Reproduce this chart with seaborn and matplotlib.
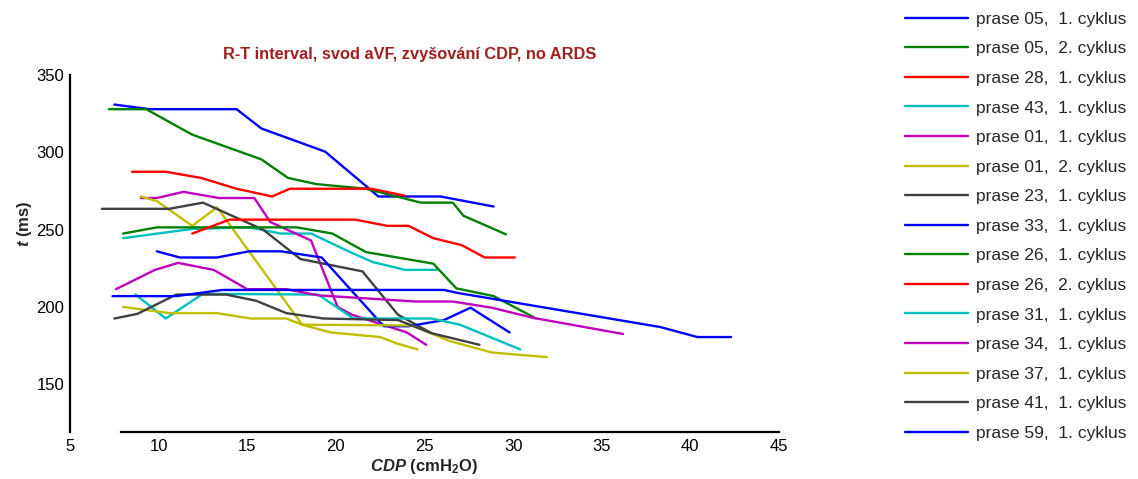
import pandas as pd
import matplotlib
matplotlib.use("Agg")
import matplotlib.pyplot as plt
import seaborn as sns

# ==========================================
# DATA
# ==========================================

labels = [
    "prase 05,  1. cyklus", "prase 05,  2. cyklus", "prase 28,  1. cyklus",
    "prase 43,  1. cyklus", "prase 01,  1. cyklus", "prase 01,  2. cyklus",
    "prase 23,  1. cyklus", "prase 33,  1. cyklus", "prase 26,  1. cyklus",
    "prase 26,  2. cyklus", "prase 31,  1. cyklus", "prase 34,  1. cyklus",
    "prase 37,  1. cyklus", "prase 41,  1. cyklus", "prase 59,  1. cyklus",
]

colors = ["#0000ff", "#008000", "#ff0000", "#00bfbf", "#bf00bf", "#bfbf00", "#404040",
          "#0000ff", "#008000", "#ff0000", "#00bfbf", "#bf00bf", "#bfbf00", "#404040",
          "#0000ff"]

cdp_05_1 = [7.5, 9.5, 14.4, 15.8, 19.4, 22.4, 25.9, 28.9]
t_05_1 = [331, 328, 328, 315.5, 300.5, 271.5, 271.5, 265]

cdp_05_2 = [7.2, 9.3, 11.9, 15.8, 17.3, 18.9, 21.7, 24.8, 26.6, 27.2, 29.6]
t_05_2 = [328, 328, 311.5, 295.5, 283.5, 279.5, 276.5, 267.5, 267.5, 259, 247]

cdp_28_1 = [8.5, 10.4, 12.4, 14.4, 16.4, 17.4, 22.0, 23.9]
t_28_1 = [287.5, 287.5, 283.5, 276.5, 271.5, 276.5, 276.5, 272]

cdp_43_1 = [8.0, 11.9, 15.1, 16.9, 18.6, 20.9, 22.1, 23.9, 25.7]
t_43_1 = [244.5, 250.5, 251.5, 247.5, 247.5, 235, 229, 224, 224]

cdp_01_1 = [9.0, 9.9, 11.4, 13.4, 15.4, 16.3, 18.6, 20.1, 20.9, 24.0, 25.1]
t_01_1 = [270.5, 270.5, 274.5, 270.5, 270.5, 255, 243, 200, 195, 183.5, 175.5]

cdp_01_2 = [9.0, 9.9, 11.9, 13.3, 18.1, 19.7, 22.5, 23.4, 24.6]
t_01_2 = [271.5, 268.5, 252.5, 264.5, 188.5, 183.5, 180.5, 176.5, 172.5]

cdp_23_1 = [6.8, 10.6, 12.5, 15.9, 18.0, 21.5, 23.5, 25.4]
t_23_1 = [263.5, 263.5, 267.5, 250, 231, 223, 195, 183]

cdp_33_1 = [9.9, 11.2, 13.3, 15.1, 16.9, 19.2, 22.7, 24.1, 26.1, 27.6, 29.8]
t_33_1 = [236, 232, 232, 236, 236, 232, 187.5, 187.5, 191.5, 199.5, 183.5]

cdp_26_1 = [8.0, 9.9, 17.8, 19.8, 21.7, 25.5, 26.8, 28.9, 31.3]
t_26_1 = [247.5, 251.5, 251.5, 247.5, 235.5, 228, 212, 207, 192.5]

cdp_26_2 = [11.9, 14.0, 21.1, 22.9, 24.1, 25.5, 27.1, 28.4, 30.1]
t_26_2 = [247.5, 256.5, 256.5, 252.5, 252.5, 244.5, 240, 232, 232]

cdp_31_1 = [8.7, 10.4, 12.5, 19.0, 21.0, 25.4, 27.0, 30.4]
t_31_1 = [208, 192.5, 208.5, 208, 192.5, 192.5, 188.5, 172.5]

cdp_34_1 = [7.6, 9.8, 11.1, 13.1, 15.0, 17.2, 19.0, 24.5, 26.6, 28.8, 31.1, 36.2]
t_34_1 = [211.5, 224, 228.5, 224, 211.5, 211.5, 207.5, 203.5, 203.5, 199.5, 193, 182.5]

cdp_37_1 = [8.0, 10.6, 13.3, 15.2, 17.2, 18.1, 24.3, 26.4, 28.8, 31.9]
t_37_1 = [200, 196, 196, 192.5, 192.5, 188.5, 188, 178, 170.5, 167.5]

cdp_41_1 = [7.5, 8.8, 11.0, 13.8, 15.5, 17.2, 19.3, 23.5, 25.4, 28.1]
t_41_1 = [192.5, 195.5, 208, 208, 204, 196, 192.5, 191.5, 183, 175.5]

cdp_59_1 = [7.4, 11.0, 13.6, 26.1, 26.9, 38.3, 40.4, 42.3]
t_59_1 = [207, 207, 211, 211, 209, 187, 180.5, 180.5]

series_x = [cdp_05_1, cdp_05_2, cdp_28_1, cdp_43_1, cdp_01_1, cdp_01_2, cdp_23_1, cdp_33_1,
            cdp_26_1, cdp_26_2, cdp_31_1, cdp_34_1, cdp_37_1, cdp_41_1, cdp_59_1]
series_y = [t_05_1, t_05_2, t_28_1, t_43_1, t_01_1, t_01_2, t_23_1, t_33_1,
            t_26_1, t_26_2, t_31_1, t_34_1, t_37_1, t_41_1, t_59_1]

rows = []
for name, xs, ys in zip(labels, series_x, series_y):
    for xv, yv in zip(xs, ys):
        rows.append({"serie": name, "CDP": xv, "t": yv})
df = pd.DataFrame(rows)

# ==========================================
# STYLE
# ==========================================

sns.set_style("white")
plt.rcParams["font.family"] = ["Liberation Sans", "DejaVu Sans"]
plt.rcParams["mathtext.fontset"] = "custom"
plt.rcParams["mathtext.rm"] = "Liberation Sans"
plt.rcParams["mathtext.it"] = "Liberation Sans:italic"
plt.rcParams["mathtext.bf"] = "Liberation Sans:bold"
plt.rcParams["mathtext.bfit"] = "Liberation Sans:italic:bold"

# ==========================================
# PLOT
# ==========================================

fig = plt.figure(figsize=(11.38, 4.79), dpi=100)
ax = fig.add_axes([0.0615, 0.098, 0.623, 0.745])

sns.lineplot(
    data=df, x="CDP", y="t", hue="serie", hue_order=labels,
    palette=colors, sort=False, estimator=None, units="serie",
    linewidth=1.7, ax=ax
)

ax.set_xlim(5, 45)
ax.set_ylim(119, 350)
ax.set_xticks(range(5, 46, 5))
ax.set_yticks([150, 200, 250, 300, 350])

for side in ["top", "right"]:
    ax.spines[side].set_visible(False)
for side in ["left", "bottom"]:
    ax.spines[side].set_linewidth(1.6)
    ax.spines[side].set_color("black")
ax.spines["bottom"].set_bounds(7.85, 45)

ax.tick_params(axis="both", direction="in", length=4, width=1.4,
               labelsize=12, colors="black", pad=5)
ax.tick_params(axis="y", pad=4)

ax.set_xlabel(r"$\mathbfit{CDP}$ (cmH$_\mathbf{2}$O)", fontsize=12, fontweight="bold", labelpad=2)
ax.set_ylabel(r"$\mathbfit{t}$ (ms)", fontsize=12, fontweight="bold")
ax.yaxis.set_label_coords(-0.051, 0.585)

fig.text(0.36, 0.887, "R-T interval, svod aVF, zvyšování CDP, no ARDS",
         ha="center", va="center", fontsize=11.8, fontweight="bold", color="#a02020")

handles, leg_labels = ax.get_legend_handles_labels()
leg = ax.legend(
    handles, leg_labels, loc="upper left", bbox_to_anchor=(0.789, 0.99),
    bbox_transform=fig.transFigure, frameon=False, fontsize=12.5,
    handlelength=3.63, handletextpad=0.46, labelspacing=0.83, borderaxespad=0
)
for line in leg.get_lines():
    line.set_linewidth(1.7)

fig.savefig("out.png", dpi=100)
